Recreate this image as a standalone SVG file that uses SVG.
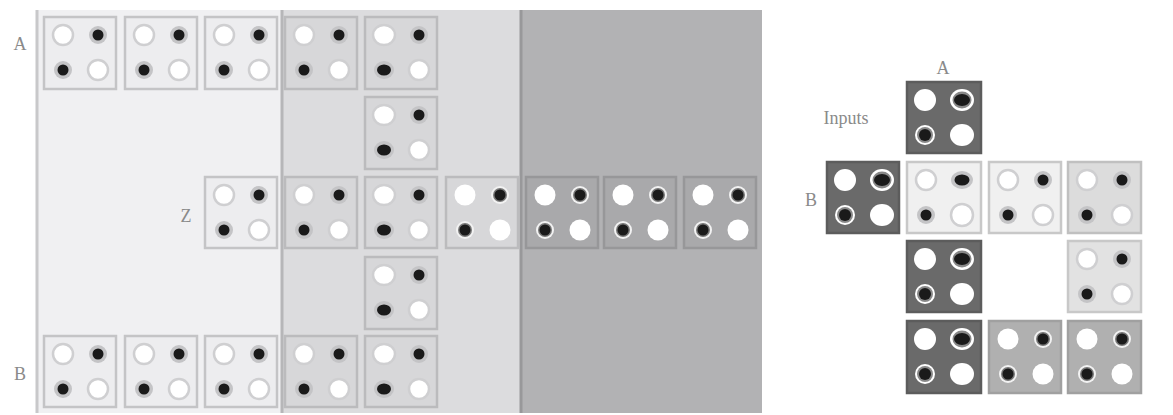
<svg xmlns="http://www.w3.org/2000/svg" xmlns:xlink="http://www.w3.org/1999/xlink" width="1173" height="415" viewBox="0 0 1173 415">
<style>
.lbl{font-family:"Liberation Serif","DejaVu Serif",serif;fill:#8a8a8a;font-size:18px;text-anchor:middle}
.cl{fill:#ededef;stroke:#c4c4c6;stroke-width:2.5}
.cm{fill:#d7d7d9;stroke:#bbbbbd;stroke-width:2.5}
.cd{fill:#a9a9ab;stroke:#979799;stroke-width:2.5}
.rl{fill:#f0f0f0;stroke:#c8c8c8;stroke-width:2.5}
.rm{fill:#dcdcdc;stroke:#c0c0c0;stroke-width:2.5}
.rg{fill:#b0b0b0;stroke:#a0a0a0;stroke-width:2.5}
.rk{fill:#6a6a6a;stroke:#5c5c5c;stroke-width:2.5}
.w{fill:#fff;stroke:#cfcfd1;stroke-width:2.5}
.halo{fill:#c4c4c6}
.k{fill:#1a1a1a}
.wr{fill:#f2f2f2}
.wb{fill:#fff}
</style>
<defs>
<g id="dL">
<circle class="w" cx="19" cy="18" r="10"/>
<circle class="w" cx="54" cy="53" r="10"/>
<circle class="halo" cx="54" cy="18" r="9"/><circle class="k" cx="54" cy="18" r="5.5"/>
<circle class="halo" cx="19" cy="53" r="9"/><circle class="k" cx="19" cy="53" r="5.5"/>
</g>
<g id="dM">
<ellipse class="w" cx="19" cy="18" rx="11" ry="10"/>
<circle class="w" cx="54" cy="53" r="10"/>
<circle class="halo" cx="54" cy="18" r="9"/><circle class="k" cx="54" cy="18" r="5.5"/>
<ellipse class="halo" cx="19" cy="53" rx="10" ry="9"/><ellipse class="k" cx="19" cy="53" rx="7" ry="5.5"/>
</g>
<g id="dT">
<circle class="w" cx="19" cy="18" r="10"/>
<circle class="w" cx="55" cy="53" r="11"/>
<ellipse class="halo" cx="55" cy="18" rx="11" ry="9"/><ellipse class="k" cx="55" cy="18" rx="7.5" ry="5.5"/>
<circle class="halo" cx="19" cy="53" r="9"/><circle class="k" cx="19" cy="53" r="5.5"/>
</g>
<g id="dD">
<circle class="wb" cx="19" cy="18" r="10.5"/>
<circle class="wb" cx="54" cy="53" r="10.5"/>
<circle class="wr" cx="54" cy="18" r="9"/><circle fill="#777" cx="54" cy="18" r="7"/><circle class="k" cx="54" cy="18" r="5.5"/>
<circle class="wr" cx="19" cy="53" r="9"/><circle fill="#777" cx="19" cy="53" r="7"/><circle class="k" cx="19" cy="53" r="5.5"/>
</g>
<g id="dK">
<circle class="wb" cx="18" cy="18" r="11"/>
<ellipse class="wb" cx="55" cy="53" rx="12" ry="11"/>
<ellipse class="wb" cx="55" cy="18" rx="12" ry="11"/><ellipse fill="#888" cx="55" cy="18" rx="9.5" ry="8.5"/><ellipse class="k" cx="55" cy="18" rx="8" ry="6"/>
<circle class="wb" cx="18" cy="53" r="10"/><circle fill="#888" cx="18" cy="53" r="8"/><circle class="k" cx="18" cy="53" r="6"/>
</g>
</defs>

<g id="background">
<rect x="36" y="10" width="245" height="403" fill="#f0f0f2"/>
<rect x="281" y="10" width="239" height="403" fill="#dcdcde"/>
<rect x="520" y="10" width="242" height="403" fill="#b2b2b4"/>
<line x1="37" y1="10" x2="37" y2="413" stroke="#c8c8ca" stroke-width="3"/>
<line x1="282" y1="10" x2="282" y2="413" stroke="#b6b6b8" stroke-width="3"/>
<line x1="521" y1="10" x2="521" y2="413" stroke="#98989a" stroke-width="3"/>
</g>

<g id="labels">
<text class="lbl" x="20" y="50">A</text>
<text class="lbl" x="186" y="222">Z</text>
<text class="lbl" x="20" y="380">B</text>
<text class="lbl" x="943" y="74">A</text>
<text class="lbl" x="846" y="124" font-size="14">Inputs</text>
<text class="lbl" x="811" y="206">B</text>
</g>

<g id="connectors"/>

<g id="rowA">
<g id="a0"><rect class="cl" x="44" y="17" width="72" height="72"/><use xlink:href="#dL" x="44" y="17"/></g>
<g id="a1"><rect class="cl" x="125" y="17" width="72" height="72"/><use xlink:href="#dL" x="125" y="17"/></g>
<g id="a2"><rect class="cl" x="205" y="17" width="72" height="72"/><use xlink:href="#dL" x="205" y="17"/></g>
<g id="a3"><rect class="cm" x="285" y="17" width="72" height="72"/><use xlink:href="#dL" x="285" y="17"/></g>
<g id="a4"><rect class="cm" x="365" y="17" width="72" height="72"/><use xlink:href="#dM" x="365" y="17"/></g>
</g>
<g id="row2">
<g id="r2c4"><rect class="cm" x="365" y="97" width="72" height="72"/><use xlink:href="#dM" x="365" y="97"/></g>
</g>
<g id="rowZ">
<g id="z2"><rect class="cl" x="205" y="177" width="72" height="71"/><use xlink:href="#dL" x="205" y="177"/></g>
<g id="z3"><rect class="cm" x="285" y="177" width="72" height="71"/><use xlink:href="#dL" x="285" y="177"/></g>
<g id="z4"><rect class="cm" x="365" y="177" width="72" height="71"/><use xlink:href="#dM" x="365" y="177"/></g>
<g id="z5"><rect class="cm" x="446" y="177" width="72" height="71"/><use xlink:href="#dD" x="446" y="177"/></g>
<g id="z6"><rect class="cd" x="526" y="177" width="72" height="71"/><use xlink:href="#dD" x="526" y="177"/></g>
<g id="z7"><rect class="cd" x="604" y="177" width="72" height="71"/><use xlink:href="#dD" x="604" y="177"/></g>
<g id="z8"><rect class="cd" x="684" y="177" width="72" height="71"/><use xlink:href="#dD" x="684" y="177"/></g>
</g>
<g id="row4">
<g id="r4c4"><rect class="cm" x="365" y="257" width="72" height="72"/><use xlink:href="#dM" x="365" y="257"/></g>
</g>
<g id="rowB">
<g id="b0"><rect class="cl" x="44" y="336" width="72" height="71"/><use xlink:href="#dL" x="44" y="336"/></g>
<g id="b1"><rect class="cl" x="125" y="336" width="72" height="71"/><use xlink:href="#dL" x="125" y="336"/></g>
<g id="b2"><rect class="cl" x="205" y="336" width="72" height="71"/><use xlink:href="#dL" x="205" y="336"/></g>
<g id="b3"><rect class="cm" x="285" y="336" width="72" height="71"/><use xlink:href="#dL" x="285" y="336"/></g>
<g id="b4"><rect class="cm" x="365" y="336" width="72" height="71"/><use xlink:href="#dM" x="365" y="336"/></g>
</g>

<g id="right">
<g id="inA"><rect class="rk" x="907" y="82" width="74" height="71"/><use xlink:href="#dK" x="907" y="82"/></g>
<g id="inB"><rect class="rk" x="827" y="162" width="72" height="71"/><use xlink:href="#dK" x="827" y="162"/></g>
<g id="r1c1"><rect class="rl" x="907" y="162" width="74" height="71"/><use xlink:href="#dT" x="907" y="162"/></g>
<g id="r1c2"><rect class="rl" x="989" y="162" width="72" height="71"/><use xlink:href="#dL" x="989" y="162"/></g>
<g id="r1c3"><rect class="rm" x="1068" y="162" width="73" height="71"/><use xlink:href="#dL" x="1068" y="162"/></g>
<g id="r2c1"><rect class="rk" x="907" y="241" width="74" height="71"/><use xlink:href="#dK" x="907" y="241"/></g>
<g id="r2c3"><rect class="rl" x="1068" y="241" width="73" height="71" style="fill:#e2e2e2"/><use xlink:href="#dL" x="1068" y="241"/></g>
<g id="r3c1"><rect class="rk" x="907" y="321" width="74" height="72"/><use xlink:href="#dK" x="907" y="321"/></g>
<g id="r3c2"><rect class="rg" x="989" y="321" width="72" height="72"/><use xlink:href="#dD" x="989" y="321"/></g>
<g id="r3c3"><rect class="rg" x="1068" y="321" width="73" height="72"/><use xlink:href="#dD" x="1068" y="321"/></g>
</g>
</svg>
